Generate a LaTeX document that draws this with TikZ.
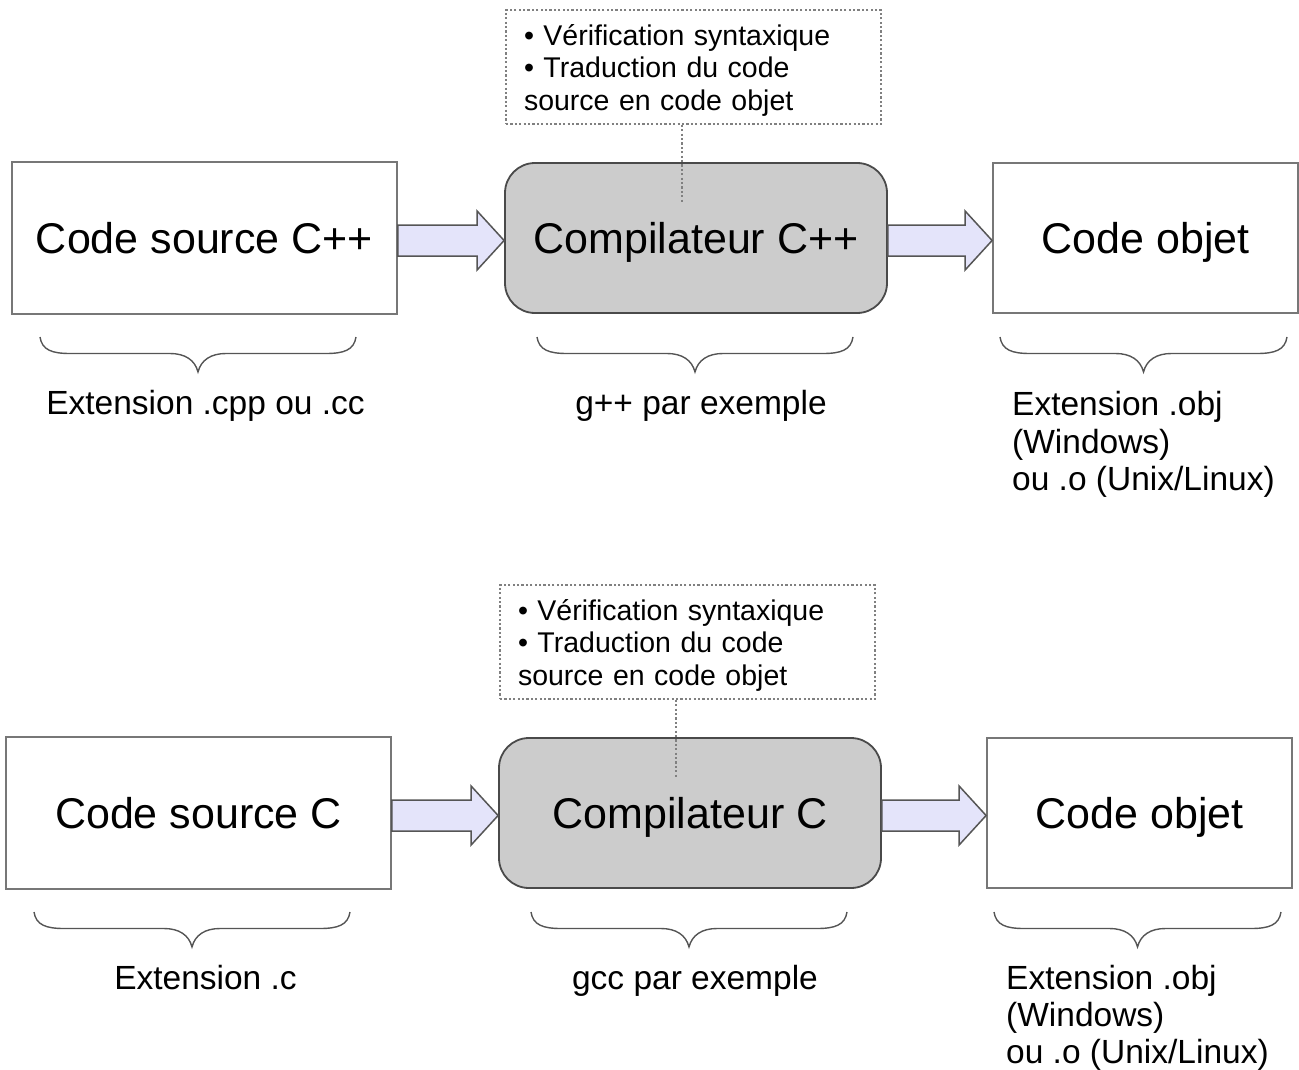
\documentclass[tikz,border=0pt]{standalone}
\usepackage{fontspec}
\setmainfont{Liberation Sans}
\usetikzlibrary{calc}
\definecolor{boxgray}{HTML}{777777}
\definecolor{compgray}{HTML}{4A4A4A}
\definecolor{compfill}{HTML}{CCCCCC}
\definecolor{notegray}{HTML}{808080}
\definecolor{arrfill}{HTML}{E4E4FA}
\definecolor{arrdraw}{HTML}{555555}
\definecolor{brcgray}{HTML}{555555}
\newcommand\fatarrow[2]{%
  \draw[fatarr] let \p1=(#1.east), \p2=(#2.west) in
    (\x1,\y1+13pt) -- (\x2-27pt,\y1+13pt) -- (\x2-27pt,\y1+27pt) -- (\x2,\y1-2.5pt)
    -- (\x2-27pt,\y1-32pt) -- (\x2-27pt,\y1-18pt) -- (\x1,\y1-18pt) -- cycle;}
\newcommand\curlybrace[3]{%
  \draw[brc] (#1,#3) .. controls (#1+2,#3+13) and (#1+12,#3+16.5) .. (#1+30,#3+16.5)
    -- ({(#1+#2)/2-28},#3+16.5) .. controls ({(#1+#2)/2-13},#3+16.5) and ({(#1+#2)/2-3},#3+23) .. ({(#1+#2)/2},#3+35)
    .. controls ({(#1+#2)/2+3},#3+23) and ({(#1+#2)/2+13},#3+16.5) .. ({(#1+#2)/2+28},#3+16.5)
    -- (#2-30,#3+16.5) .. controls (#2-12,#3+16.5) and (#2-2,#3+13) .. (#2,#3);}
\begin{document}
\begin{tikzpicture}[x=1pt,y=-1pt,
  srcbox/.style={draw=boxgray, line width=1.8pt, fill=white, inner sep=0pt,
    minimum width=385pt, minimum height=152pt, text height=31pt, text depth=0pt,
    font=\fontsize{43}{50}\selectfont},
  objbox/.style={srcbox, minimum width=305pt, minimum height=150pt},
  compbox/.style={draw=compgray, fill=compfill, line width=1.8pt, rounded corners=30pt, inner sep=0pt,
    minimum width=382pt, minimum height=150pt, text height=31pt, text depth=0pt,
    font=\fontsize{43}{50}\selectfont},
  notebox/.style={draw=notegray, line width=1.6pt, dash pattern=on 2.2pt off 2.2pt, align=left,
    text width=339pt, inner xsep=18pt, inner ysep=0pt, minimum height=114pt, text height=27pt,
    font=\fontsize{28.5}{32.5}\selectfont},
  noteline/.style={draw=notegray, line width=1.6pt, dash pattern=on 2.2pt off 2.2pt},
  lbl/.style={inner sep=0pt, font=\fontsize{33.5}{37.2}\selectfont},
  fatarr/.style={draw=arrdraw, fill=arrfill, line width=1.5pt, line join=miter},
  brc/.style={draw=brcgray, line width=1.4pt}]
\useasboundingbox (0,0) rectangle (1299,1070);

% ---------- top row ----------
\node[srcbox] (src1) at (204.5,238) {Code source C++};
\node[compbox] (comp1) at (696,238) {Compilateur C++};
\node[objbox] (obj1) at (1145.5,238) {Code objet};
\node[notebox] (note1) at (693.5,67) {• Vérification syntaxique\\• Traduction du code\\source en code objet};
\coordinate (n1end) at (682,203);
\draw[noteline] (note1.south -| n1end) -- (n1end);
\fatarrow{src1}{comp1}
\fatarrow{comp1}{obj1}
\curlybrace{40}{356}{337}
\curlybrace{537}{853}{337}
\curlybrace{1000}{1287}{337}
\node[lbl, anchor=base] (ext1) at (205.5,414) {Extension .cpp ou .cc};
\node[lbl, anchor=base] (gpp) at (701,414) {g++ par exemple};
\node[lbl, anchor=north west, align=left] (objext1) at (1012,391.5) {Extension .obj\\(Windows)\\ou .o (Unix/Linux)};

% ---------- bottom row ----------
\node[srcbox] (src2) at (198.5,813) {Code source C};
\node[compbox] (comp2) at (690,813) {Compilateur C};
\node[objbox] (obj2) at (1139.5,813) {Code objet};
\node[notebox] (note2) at (687.5,642) {• Vérification syntaxique\\• Traduction du code\\source en code objet};
\coordinate (n2end) at (676,778);
\draw[noteline] (note2.south -| n2end) -- (n2end);
\fatarrow{src2}{comp2}
\fatarrow{comp2}{obj2}
\curlybrace{34}{350}{912}
\curlybrace{531}{847}{912}
\curlybrace{994}{1281}{912}
\node[lbl, anchor=base] (ext2) at (205.5,989) {Extension .c};
\node[lbl, anchor=base] (gcc) at (695,989) {gcc par exemple};
\node[lbl, anchor=north west, align=left] (objext2) at (1006,965) {Extension .obj\\(Windows)\\ou .o (Unix/Linux)};
\end{tikzpicture}
\end{document}
